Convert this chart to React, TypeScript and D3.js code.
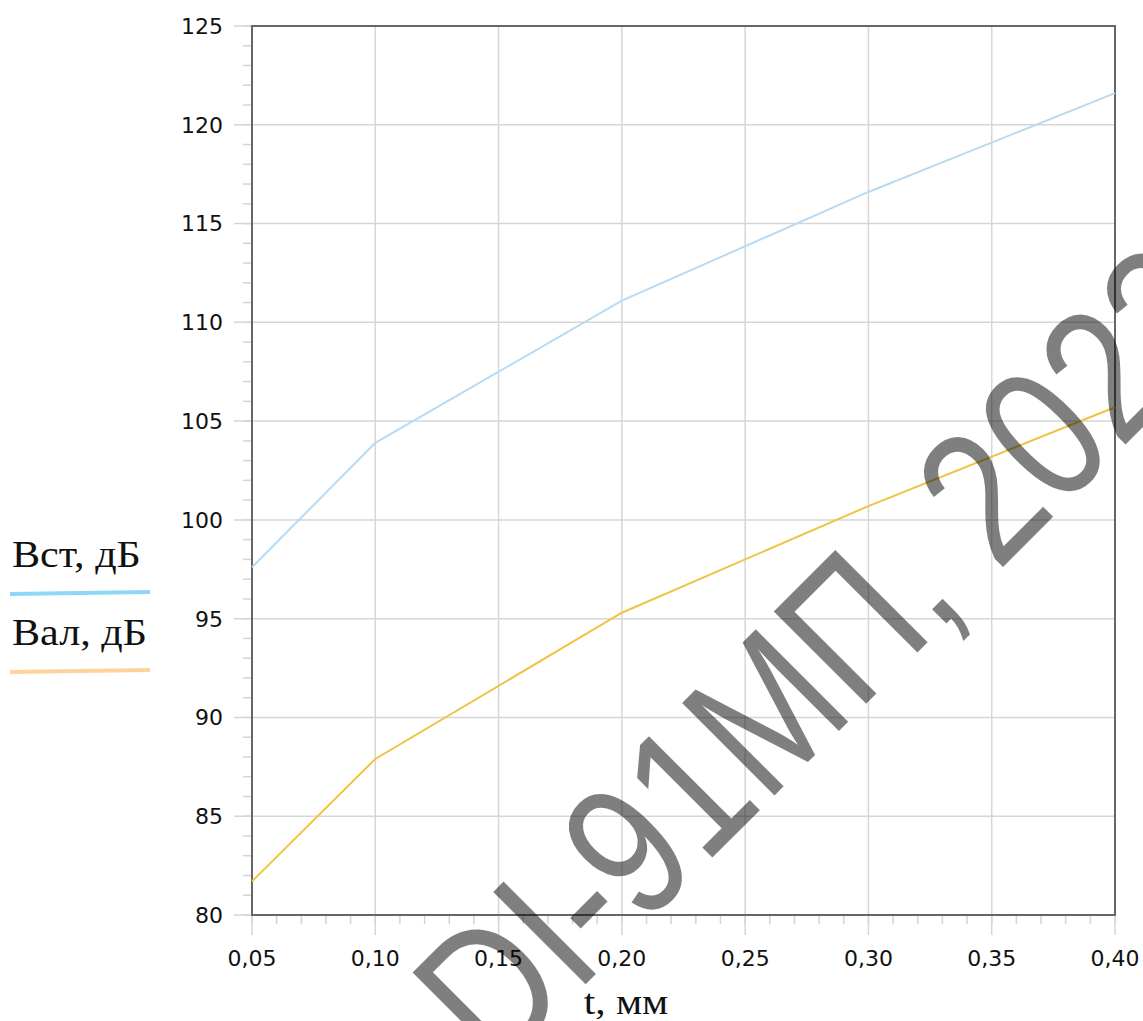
import React, { useEffect, useRef } from 'react';
import * as d3 from 'd3';

// Chart data
const thickness = [0.05, 0.10, 0.20, 0.30, 0.40];
const vstValues = [97.6, 103.9, 111.1, 116.6, 121.6];
const valValues = [81.7, 87.9, 95.3, 100.7, 105.7];
const seriesLabels = ['Вст, дБ', 'Вал, дБ'];
const xTitle = 't, мм';
const watermark = 'DI-91МП, 2023';

const W = 1143;
const H = 1021;
const plot = { left: 252, right: 1115, top: 26, bottom: 915 };

function App() {
    const ref = useRef<SVGSVGElement>(null);

    useEffect(() => {
        const svg = d3.select(ref.current).html('');

        const x = d3.scaleLinear().domain([0.05, 0.40]).range([plot.left, plot.right]);
        const y = d3.scaleLinear().domain([80, 125]).range([plot.bottom, plot.top]);
        const fmt = (v: number) => d3.format('.2f')(v).replace('.', ',');

        const xMajor = d3.range(0.05, 0.4001, 0.05);
        const xMinor = d3.range(0.05, 0.4001, 0.01);
        const yMajor = d3.range(80, 125.001, 5);
        const yMinor = d3.range(80, 125.001, 1);

        // minor ticks
        svg.append('g').selectAll('line').data(xMinor).enter().append('line')
            .attr('x1', (d) => x(d)).attr('x2', (d) => x(d))
            .attr('y1', plot.bottom).attr('y2', plot.bottom + 9)
            .attr('stroke', '#d4d4d4').attr('stroke-width', 1.5);
        svg.append('g').selectAll('line').data(yMinor).enter().append('line')
            .attr('y1', (d) => y(d)).attr('y2', (d) => y(d))
            .attr('x1', plot.left - 9).attr('x2', plot.left)
            .attr('stroke', '#d4d4d4').attr('stroke-width', 1.5);

        // grid + major ticks
        svg.append('g').selectAll('line').data(xMajor).enter().append('line')
            .attr('x1', (d) => x(d)).attr('x2', (d) => x(d))
            .attr('y1', plot.top).attr('y2', plot.bottom + 20)
            .attr('stroke', '#d6d6d6').attr('stroke-width', 1.5);
        svg.append('g').selectAll('line').data(yMajor).enter().append('line')
            .attr('y1', (d) => y(d)).attr('y2', (d) => y(d))
            .attr('x1', plot.left - 18).attr('x2', plot.right)
            .attr('stroke', '#d6d6d6').attr('stroke-width', 1.5);

        // tick labels
        svg.append('g').selectAll('text').data(xMajor).enter().append('text')
            .attr('x', (d) => x(d)).attr('y', plot.bottom + 51)
            .attr('text-anchor', 'middle')
            .attr('font-family', 'DejaVu Sans').attr('font-size', 22)
            .attr('fill', '#111').text((d) => fmt(d));
        svg.append('g').selectAll('text').data(yMajor).enter().append('text')
            .attr('x', plot.left - 29).attr('y', (d) => y(d))
            .attr('dy', '0.36em').attr('text-anchor', 'end')
            .attr('font-family', 'DejaVu Sans').attr('font-size', 22)
            .attr('fill', '#111').text((d) => d);

        // frame
        svg.append('rect')
            .attr('x', plot.left).attr('y', plot.top)
            .attr('width', plot.right - plot.left).attr('height', plot.bottom - plot.top)
            .attr('fill', 'none').attr('stroke', '#666').attr('stroke-width', 2);

        // lines
        const line = d3.line<number>().x((d, i) => x(thickness[i])).y((d) => y(d));
        svg.append('path').attr('d', line(vstValues))
            .attr('fill', 'none').attr('stroke', '#b7dbf5').attr('stroke-width', 2);
        svg.append('path').attr('d', line(valValues))
            .attr('fill', 'none').attr('stroke', '#f0c443').attr('stroke-width', 2);

        // legend
        const legendColors = ['#8dd8f6', '#fdd39c'];
        seriesLabels.forEach((label, i) => {
            const base = 567 + i * 78;
            svg.append('text')
                .attr('transform', `translate(12,${base}) scale(1.14,1)`)
                .attr('font-family', 'Liberation Serif').attr('font-size', 37)
                .attr('fill', '#111').text(label);
            svg.append('line')
                .attr('x1', 10).attr('x2', 150)
                .attr('y1', base + 27).attr('y2', base + 25)
                .attr('stroke', legendColors[i]).attr('stroke-width', 4);
        });

        // x title
        svg.append('text')
            .attr('transform', `translate(626,1014) scale(1.15,1)`)
            .attr('text-anchor', 'middle')
            .attr('font-family', 'Liberation Serif').attr('font-size', 36)
            .attr('fill', '#111').text(xTitle);

        // watermark
        svg.append('text')
            .attr('transform', 'translate(496,1074) rotate(-45) scale(0.82,1)')
            .attr('font-family', 'Liberation Sans').attr('font-size', 190)
            .attr('fill', '#000').attr('fill-opacity', 0.5)
            .text(watermark);
    }, []);

    return (
        <svg ref={ref} width={W} height={H}
            style={{ position: 'absolute', left: 0, top: 0, background: '#fff' }} />
    );
}

export default App;
